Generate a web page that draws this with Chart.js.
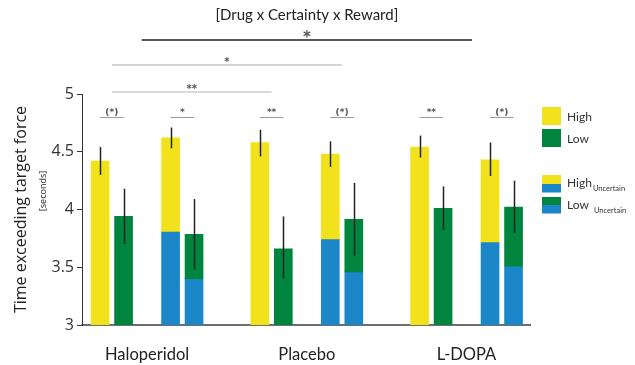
<!DOCTYPE html>
<html>
<head>
<meta charset="utf-8">
<script src="https://cdn.jsdelivr.net/npm/chart.js@4.4.1/dist/chart.umd.min.js"></script>
<style>
  html, body { margin: 0; padding: 0; background: #fff; }
  #wrap { width: 635px; height: 365px; }
</style>
</head>
<body>
<div id="wrap"><canvas id="forceChart"></canvas></div>
<script>
const drugs = ['Haloperidol', 'Placebo', 'L-DOPA'];

// certain trials
const highCertain = [4.42, 4.58, 4.54];
const highCertainErrLo = [4.30, 4.46, 4.45];
const highCertainErrHi = [4.54, 4.69, 4.64];
const lowCertain = [3.94, 3.66, 4.01];
const lowCertainErrLo = [3.70, 3.40, 3.825];
const lowCertainErrHi = [4.18, 3.94, 4.20];

// uncertain trials (blue = uncertain part of the bar)
const highUncertain = [4.62, 4.48, 4.43];
const highUncertainBlue = [3.81, 3.745, 3.72];
const highUncertainErrLo = [4.53, 4.37, 4.29];
const highUncertainErrHi = [4.71, 4.59, 4.58];
const lowUncertain = [3.785, 3.915, 4.02];
const lowUncertainBlue = [3.40, 3.46, 3.51];
const lowUncertainErrLo = [3.48, 3.60, 3.80];
const lowUncertainErrHi = [4.09, 4.23, 4.25];

// significance marks per pair
const certainSig = ['(*)', '**', '**'];
const uncertainSig = ['*', '(*)', '(*)'];
const yTicks = [3, 3.5, 4, 4.5, 5];

const YELLOW = '#f2e21b';
const GREEN = '#00853e';
const BLUE = '#1b87c8';
const STAR_FONT = "'DejaVu Sans'";

// x positions in "slot" units, a group is 6.8 slots wide
const GROUP = 6.8;
const gx = (g, off) => g * GROUP + off;

const yellowData = [], greenData = [], blueData = [];
drugs.forEach((d, g) => {
  yellowData.push({ x: gx(g, -2), y: [3, highCertain[g]] });
  yellowData.push({ x: gx(g, 1), y: [highUncertainBlue[g], highUncertain[g]] });
  greenData.push({ x: gx(g, -1), y: [3, lowCertain[g]] });
  greenData.push({ x: gx(g, 2), y: [lowUncertainBlue[g], lowUncertain[g]] });
  blueData.push({ x: gx(g, 1), y: [3, highUncertainBlue[g]] });
  blueData.push({ x: gx(g, 2), y: [3, lowUncertainBlue[g]] });
});

const extras = {
  id: 'extras',
  beforeDraw(chart) {
    const c = chart.ctx;
    c.save();
    c.fillStyle = '#fff';
    c.fillRect(0, 0, chart.width, chart.height);
    c.restore();
  },
  afterDatasetsDraw(chart) {
    const c = chart.ctx;
    const xs = chart.scales.x, ys = chart.scales.y;
    const X = v => xs.getPixelForValue(v);
    const Y = v => ys.getPixelForValue(v);
    c.save();

    // error bars
    c.strokeStyle = '#222';
    c.lineWidth = 1.5;
    const errs = [
      [-2, highCertainErrLo, highCertainErrHi],
      [-1, lowCertainErrLo, lowCertainErrHi],
      [1, highUncertainErrLo, highUncertainErrHi],
      [2, lowUncertainErrLo, lowUncertainErrHi]
    ];
    drugs.forEach((d, g) => {
      errs.forEach(([off, lo, hi]) => {
        const x = Math.round(X(gx(g, off))) + 0.5;
        c.beginPath();
        c.moveTo(x, Y(lo[g]));
        c.lineTo(x, Y(hi[g]));
        c.stroke();
      });
    });

    // pair significance
    const pairY = Math.round(Y(4.8)) + 0.5;
    c.font = "bold 9px " + STAR_FONT;
    c.textAlign = 'center';
    c.textBaseline = 'alphabetic';
    drugs.forEach((d, g) => {
      [[-2, -1, certainSig[g]], [1, 2, uncertainSig[g]]].forEach(([a, b, lab]) => {
        c.strokeStyle = '#9a9a9a';
        c.lineWidth = 1;
        c.beginPath();
        c.moveTo(X(gx(g, a)), pairY);
        c.lineTo(X(gx(g, b)), pairY);
        c.stroke();
        c.fillStyle = '#555';
        c.fillText(lab, (X(gx(g, a)) + X(gx(g, b))) / 2, pairY - 2.5);
      });
    });

    // comparisons across drugs
    const top = chart.chartArea.top;
    const longLines = [
      [gx(0, -1.5), gx(1, -1.5), top - 2, '**', '#b5b5b5', 1],
      [gx(0, -1.5), gx(1, 1.5), top - 29, '*', '#a8a8a8', 1],
      [gx(0, -0.23), gx(2, 0.23), top - 54, '*', '#555', 2]
    ];
    longLines.forEach(([a, b, y, lab, col, w]) => {
      c.strokeStyle = col;
      c.lineWidth = w;
      c.beginPath();
      c.moveTo(X(a), y);
      c.lineTo(X(b), y);
      c.stroke();
      c.fillStyle = '#555';
      c.font = (w > 1 ? "bold 15px " : "bold 10px ") + STAR_FONT;
      c.fillText(lab, (X(a) + X(b)) / 2, y + (w > 1 ? 1.5 : -0.5));
    });

    // title
    c.fillStyle = '#222';
    c.font = "15px Lato";
    c.textBaseline = 'middle';
    c.fillText('[Drug x Certainty x Reward]', X((gx(0, -0.23) + gx(2, 0.23)) / 2), 15);

    // drug labels
    c.font = "16.5px Lato";
    drugs.forEach((d, g) => c.fillText(d, X(gx(g, 0)), 355));

    // y axis title
    c.save();
    c.translate(21, (chart.chartArea.top + chart.chartArea.bottom) / 2);
    c.rotate(-Math.PI / 2);
    c.font = "16px 'Open Sans'";
    c.fillText('Time exceeding target force', 0, 0);
    c.restore();
    c.save();
    c.translate(43, 191);
    c.rotate(-Math.PI / 2);
    c.font = "9px 'Open Sans'";
    c.fillText('[seconds]', 0, 0);
    c.restore();

    // legend
    const lx = 542, sw = 19;
    c.textAlign = 'left';
    c.fillStyle = YELLOW; c.fillRect(lx, 107, sw, 18);
    c.fillStyle = GREEN; c.fillRect(lx, 129, sw, 18);
    c.fillStyle = YELLOW; c.fillRect(lx, 175, sw, 9);
    c.fillStyle = BLUE; c.fillRect(lx, 184, sw, 8.5);
    c.fillStyle = GREEN; c.fillRect(lx, 197, sw, 8);
    c.fillStyle = BLUE; c.fillRect(lx, 205, sw, 8.5);
    c.fillStyle = '#333';
    c.font = "12px Lato";
    c.fillText('High', 567, 117);
    c.fillText('Low', 567, 139);
    c.fillText('High', 567, 183);
    let w1 = c.measureText('High').width;
    c.fillText('Low', 567, 205);
    let w2 = c.measureText('Low ').width;
    c.font = "7.5px Lato";
    c.fillText('Uncertain', 567 + w1 + 1, 189);
    c.fillText('Uncertain', 567 + w2 + 2, 211);
    c.restore();
  }
};

new Chart(document.getElementById('forceChart'), {
  type: 'bar',
  data: {
    datasets: [
      { label: 'High', data: yellowData, backgroundColor: YELLOW },
      { label: 'Low', data: greenData, backgroundColor: GREEN },
      { label: 'Uncertain', data: blueData, backgroundColor: BLUE }
    ]
  },
  options: {
    responsive: true,
    maintainAspectRatio: false,
    animation: false,
    datasets: { bar: { grouped: false, barThickness: 18, borderWidth: 0 } },
    layout: { padding: { top: 94, right: 105, left: 0, bottom: 0 } },
    plugins: { legend: { display: false }, tooltip: { enabled: false } },
    scales: {
      x: {
        type: 'linear',
        offset: false,
        min: -2.77,
        max: 16.3,
        ticks: { display: false },
        grid: { display: false },
        border: { display: true, color: '#6e6e6e', width: 2 },
        afterFit: (s) => { s.height = 40; }
      },
      y: {
        min: 3,
        max: 5,
        afterBuildTicks: (s) => { s.ticks = yTicks.map(v => ({ value: v })); },
        ticks: {
          color: '#333',
          font: { family: 'Open Sans', size: 16 },
          padding: 3,
          callback: (v) => String(v)
        },
        grid: { drawOnChartArea: false, drawTicks: true, tickLength: 5, color: '#333' },
        border: { display: true, color: '#333', width: 1 },
        afterFit: (s) => { s.width = 82; }
      }
    }
  },
  plugins: [extras]
});
</script>
</body>
</html>
